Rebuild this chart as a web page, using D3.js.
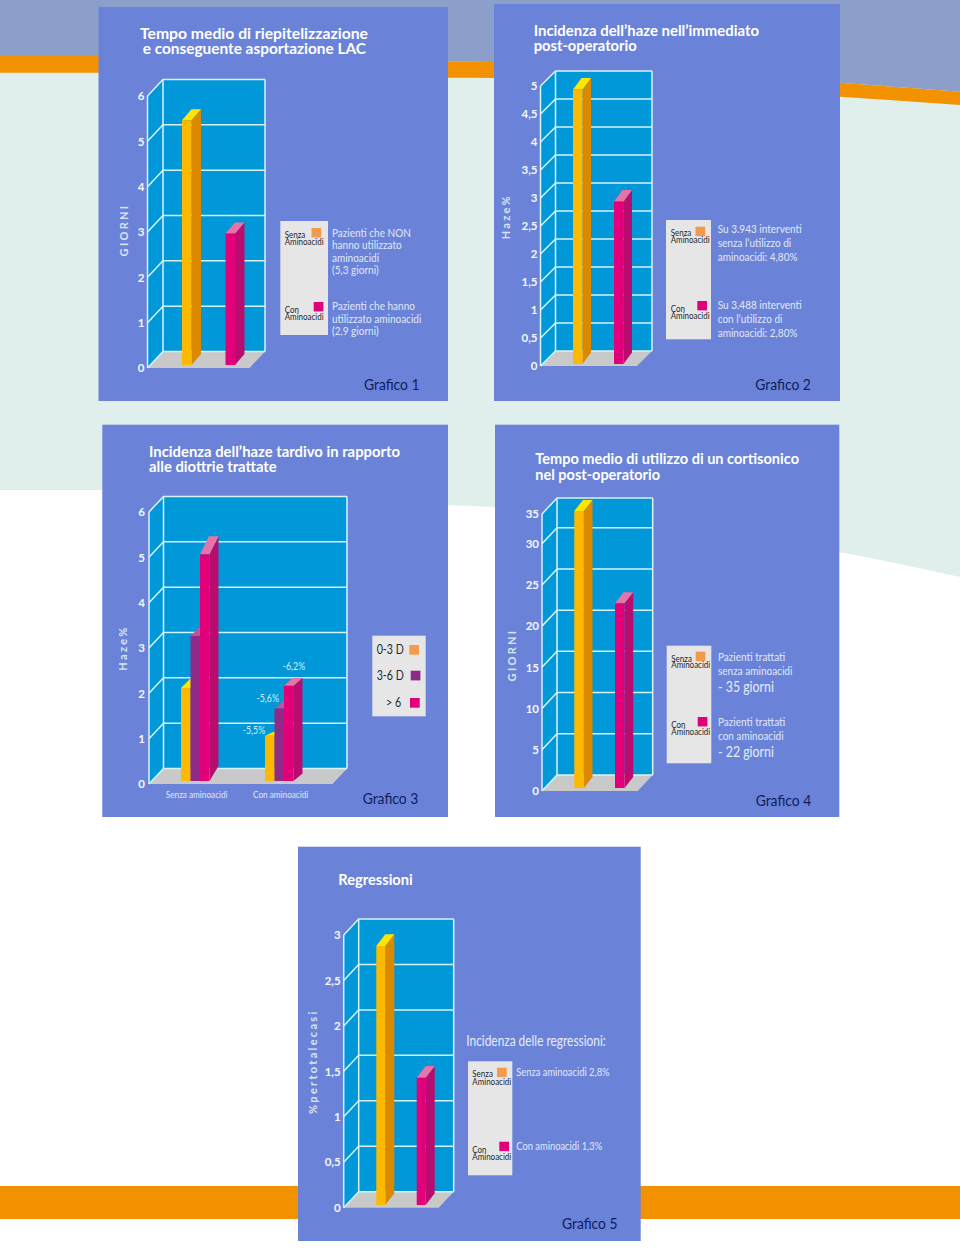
<!DOCTYPE html>
<html>
<head>
<meta charset="utf-8">
<script src="https://d3js.org/d3.v7.min.js"></script>
<style>
  html, body { margin: 0; padding: 0; background: #fff; }
  svg { display: block; }
  text { font-family: Lato, "Open Sans", sans-serif; }
  .title { font-weight: 700; font-size: 15.5px; fill: #fff; }
  .tick text { font-weight: 700; font-size: 11.5px; fill: #f4f8fc; }
  .axis-title { font-weight: 700; font-size: 11px; fill: #d8e6f4; }
  .note { font-size: 11px; fill: #e0e8f6; }
  .big-note { font-size: 14.5px; fill: #e6edf8; }
  .key { font-size: 9.5px; fill: #26262e; }
  .fig { font-size: 15.5px; fill: #101c5e; }
</style>
</head>
<body>
<div id="chart"></div>
<script>
// ---- values ----
const g1Categories = ["Senza Aminoacidi", "Con Aminoacidi"];
const g1Values = [5.4, 2.9];
const g1Ticks = [0, 1, 2, 3, 4, 5, 6];

const g2Categories = ["Senza Aminoacidi", "Con Aminoacidi"];
const g2Values = [4.9, 2.9];
const g2Ticks = [0, 0.5, 1, 1.5, 2, 2.5, 3, 3.5, 4, 4.5, 5];

const g3Groups = ["Senza aminoacidi", "Con aminoacidi"];
const g3Series = ["0-3 D", "3-6 D", "> 6"];
const g3Values = [[2.05, 3.2, 5.0], [1.0, 1.6, 2.1]];
const g3Labels = ["-5,5%", "-5,6%", "-6,2%"];
const g3Ticks = [0, 1, 2, 3, 4, 5, 6];

const g4Categories = ["Senza Aminoacidi", "Con Aminoacidi"];
const g4Values = [35, 22.4];
const g4Ticks = [0, 5, 10, 15, 20, 25, 30, 35];

const g5Categories = ["Senza Aminoacidi", "Con Aminoacidi"];
const g5Values = [2.85, 1.4];
const g5Ticks = [0, 0.5, 1, 1.5, 2, 2.5, 3];

// ---- colours ----
const WALL = "#0098d8";
const LINE = "#d6f4f6";
const FLOOR = "#c9c9c9";
const PANEL = "#6a83d8";
const YELLOW = { front: "#fdb900", side: "#db8a00", top: "#ffe600" };
const PURPLE = { front: "#8f2a87", side: "#8f2a87", top: "#b5589c" };
const PINK = { front: "#e2007a", side: "#b80c70", top: "#e873a8" };
const KEY_ORANGE = "#f39a4c";

const comma = d => String(d).replace(".", ",");

const svg = d3.select("#chart").append("svg").attr("width", 960).attr("height", 1249);

// ---- page background ----
svg.append("rect").attr("width", 960).attr("height", 1249).attr("fill", "#fff");
const bandLine = d3.line().curve(d3.curveMonotoneX);
const stripeTop = [[0, 56], [98, 56], [448, 61.7], [494, 62], [840, 82.7], [960, 91.7]];
const stripeBottom = [[960, 105], [840, 96.7], [494, 78], [448, 77.7], [98, 72.7], [0, 72.7]];
const paleBottom = [[0, 490], [102, 490], [448, 505], [495, 507], [839, 552], [960, 577]];
svg.append("path").attr("fill", "#e0efeb")
  .attr("d", bandLine(paleBottom) + "L960,0L0,0Z");
svg.append("path").attr("fill", "#8c9fcb")
  .attr("d", bandLine(stripeTop) + "L960,0L0,0Z");
svg.append("path").attr("fill", "#f39200")
  .attr("d", bandLine(stripeTop) + "L" + bandLine(stripeBottom).slice(1) + "Z");
svg.append("rect").attr("x", 0).attr("y", 1186).attr("width", 960).attr("height", 33).attr("fill", "#f39200");

function text(g, x, y, str, cls) {
  return g.append("text").attr("x", x).attr("y", y).attr("class", cls).text(str);
}

// the original face runs narrower than Lato, so texts get pulled in to a given width
function fit(sel, width) {
  sel.attr("textLength", width).attr("lengthAdjust", "spacingAndGlyphs");
}

// one 3D-looking bar, front face plus side and top faces
function drawBar(g, x, w, yTop, yBase, dx, dyTop, dyBase, c) {
  g.append("path").attr("fill", c.side)
    .attr("d", `M${x + w},${yBase}L${x + w + dx},${yBase - dyBase}L${x + w + dx},${yTop - dyTop}L${x + w},${yTop}Z`);
  g.append("path").attr("fill", c.top)
    .attr("d", `M${x},${yTop}L${x + dx},${yTop - dyTop}L${x + w + dx},${yTop - dyTop}L${x + w},${yTop}Z`);
  g.append("rect").attr("x", x).attr("y", yTop).attr("width", w).attr("height", yBase - yTop).attr("fill", c.front);
}

// panel, walls, gridlines and the value axis shared by all five charts
function drawFrame(p) {
  const g = svg.append("g");
  g.append("rect").attr("x", p.panel[0]).attr("y", p.panel[1])
    .attr("width", p.panel[2] - p.panel[0]).attr("height", p.panel[3] - p.panel[1]).attr("fill", PANEL);

  const y = d3.scaleLinear().domain(p.domain).range(p.range);
  const x0 = p.left, x1 = p.right, d = p.dx, e = p.dy, y0 = p.range[0];
  const yTop = p.range[p.range.length - 1];

  g.append("path").attr("fill", WALL)
    .attr("d", `M${x0},${y0}L${x0 + d},${y0 - e}L${x0 + d},${yTop - e}L${x0},${yTop}Z`);
  g.append("rect").attr("x", x0 + d).attr("y", yTop - e).attr("width", x1 - x0 - d).attr("height", y0 - yTop).attr("fill", WALL);
  g.append("path").attr("fill", FLOOR)
    .attr("d", `M${x0},${y0}L${x0 + d},${y0 - e}L${x1},${y0 - e}L${x1 - d},${y0}Z`);

  g.selectAll(".grid").data(p.ticks).enter().append("path")
    .attr("class", "grid").attr("fill", "none").attr("stroke", LINE).attr("stroke-width", 1.5)
    .attr("d", v => `M${x0},${y(v)}L${x0 + d},${y(v) - e}L${x1},${y(v) - e}`);
  g.append("path").attr("fill", "none").attr("stroke", LINE).attr("stroke-width", 1.5)
    .attr("d", `M${x0},${y0}L${x0},${yTop}M${x0 + d},${y0 - e}L${x0 + d},${yTop - e}M${x1},${y0 - e}L${x1},${yTop - e}`);

  const axis = g.append("g").attr("transform", `translate(${x0},0)`)
    .call(d3.axisLeft(y).tickValues(p.ticks).tickFormat(comma).tickSize(0).tickPadding(p.tickPad || 3));
  axis.select(".domain").remove();

  g.append("text").attr("class", "axis-title")
    .attr("transform", `translate(${p.axisTitle[0]},${p.axisTitle[1]}) rotate(-90)`)
    .attr("text-anchor", "middle").attr("letter-spacing", "2.3px").text(p.axisLabel);

  p.title.forEach((t, i) => {
    fit(text(g, p.titleX[i], p.titleY + i * 15.2, t, "title"), p.titleW[i]);
  });
  fit(text(g, p.figAt[0], p.figAt[1], p.fig, "fig"), 55.5);
  return { g, y };
}

// two single-series bars
function drawPair(frame, p, categories, values) {
  const x = d3.scalePoint().domain(categories).range(p.barX);
  categories.forEach((c, i) => {
    const yTop = frame.y(values[i]) - p.lift;
    const yBase = frame.y(0) - p.lift;
    drawBar(frame.g, x(c), p.barW, yTop, yBase, p.barDx, p.barDy, p.barDy, i === 0 ? YELLOW : PINK);
  });
}

// grey key box with the "Senza/Con Aminoacidi" swatches and notes beside it
function drawKey(g, k) {
  g.append("rect").attr("x", k.box[0]).attr("y", k.box[1])
    .attr("width", k.box[2] - k.box[0]).attr("height", k.box[3] - k.box[1]).attr("fill", "#e6e6e6");
  k.swatch.forEach((s, i) => {
    g.append("rect").attr("x", s[0]).attr("y", s[1]).attr("width", 9.7).attr("height", 9.4)
      .attr("fill", i === 0 ? KEY_ORANGE : PINK.front);
  });
  k.lines.forEach(l => {
    const t = text(g, l[0], l[1], l[2], "key");
    fit(t, t.node().getComputedTextLength() * 0.84);
  });
  k.notes.forEach(n => {
    const t = text(g, n[0], n[1], n[2], n[3] || "note");
    fit(t, t.node().getComputedTextLength() * (n[4] || 0.91));
  });
}

// ---- Grafico 1 ----
const p1 = {
  panel: [98.5, 7, 448, 401], domain: [0, 6], range: [368, 96], left: 147.5, right: 265, dx: 15.5, dy: 16.5,
  ticks: g1Ticks, axisLabel: "GIORNI", axisTitle: [128, 230],
  title: ["Tempo medio di riepitelizzazione", "e conseguente asportazione LAC"],
  titleX: [140, 142.7], titleY: 39, titleW: [228, 223.3],
  fig: "Grafico 1", figAt: [364, 390],
  barX: [182, 225.5], barW: 9.5, barDx: 9.5, barDy: 11, lift: 3
};
const f1 = drawFrame(p1);
drawPair(f1, p1, g1Categories, g1Values);
drawKey(f1.g, {
  box: [280.3, 221, 328, 335],
  swatch: [[311.5, 228], [313.7, 302]],
  lines: [[284.7, 237.7, "Senza"], [284.7, 244.7, "Aminoacidi"], [284.7, 313, "Con"], [284.7, 319.7, "Aminoacidi"]],
  notes: [[332, 236.7, "Pazienti che NON"], [332, 249.3, "hanno utilizzato"], [332, 262, "aminoacidi"], [332, 274.3, "(5,3 giorni)"],
    [332, 310.3, "Pazienti che hanno"], [332, 323, "utilizzato aminoacidi"], [332, 335.3, "(2,9 giorni)"]]
});

// ---- Grafico 2 ----
const p2 = {
  panel: [494, 4, 840, 401], domain: [0, 5], range: [366, 86], left: 540.5, right: 652, dx: 15, dy: 15,
  ticks: g2Ticks, axisLabel: "Haze%", axisTitle: [510, 216.7],
  title: ["Incidenza dell’haze nell’immediato", "post-operatorio"],
  titleX: [533.7, 533.7], titleY: 35.7, titleW: [225.3, 103],
  fig: "Grafico 2", figAt: [755.3, 390],
  barX: [573, 614], barW: 9.5, barDx: 8.5, barDy: 11.5, lift: 2
};
const f2 = drawFrame(p2);
drawPair(f2, p2, g2Categories, g2Values);
drawKey(f2.g, {
  box: [666, 220, 711, 339.3],
  swatch: [[695.5, 226.7], [697.3, 301]],
  lines: [[670.7, 236, "Senza"], [670.7, 243.3, "Aminoacidi"], [670.7, 312, "Con"], [670.7, 319, "Aminoacidi"]],
  notes: [[717.7, 233.3, "Su 3.943 interventi"], [717.7, 247.3, "senza l’utilizzo di"], [717.7, 261.3, "aminoacidi: 4,80%"],
    [717.7, 309, "Su 3.488 interventi"], [717.7, 323, "con l’utilizzo di"], [717.7, 337, "aminoacidi: 2,80%"]]
});

// ---- Grafico 3 ----
const p3 = {
  panel: [102.3, 424.7, 448, 817], domain: [0, 6], range: [784, 512], left: 149, right: 347, dx: 14.5, dy: 15.5,
  ticks: g3Ticks, axisLabel: "Haze%", axisTitle: [127, 648],
  title: ["Incidenza dell’haze tardivo in rapporto", "alle diottrie trattate"],
  titleX: [149, 149], titleY: 456.7, titleW: [251, 127.7],
  fig: "Grafico 3", figAt: [362.7, 804], tickPad: 4
};
const f3 = drawFrame(p3);
const g3X = d3.scalePoint().domain(g3Groups).range([181, 265]);
const g3Inner = d3.scaleBand().domain(g3Series).range([0, 28.5]);
const g3Colours = [YELLOW, PURPLE, PINK];
const g3TopDepth = [[9, 9, 18], [4, 8, 8]];
const g3BaseDepth = [15, 7.5];
g3Groups.forEach((group, i) => {
  g3Series.forEach((s, j) => {
    drawBar(f3.g, g3X(group) + g3Inner(s), g3Inner.bandwidth(), f3.y(g3Values[i][j]) - 3, f3.y(0) - 3,
      9, g3TopDepth[i][j], g3BaseDepth[i], g3Colours[j]);
  });
  const t = text(f3.g, g3X(group) + 15.7, 798, group, "note").attr("text-anchor", "middle").style("font-size", "10px");
  fit(t, t.node().getComputedTextLength() * 0.82);
});
const g3LabelAt = [[254, 733.5], [267.7, 702], [294, 669.5]];
g3Labels.forEach((l, i) => {
  const t = text(f3.g, g3LabelAt[i][0], g3LabelAt[i][1], l, "note").attr("text-anchor", "middle")
    .style("fill", "#d4eef4");
  fit(t, t.node().getComputedTextLength() * 0.8);
});
f3.g.append("rect").attr("x", 372.3).attr("y", 635.7).attr("width", 53.4).attr("height", 80.6).attr("fill", "#e6e6e6");
const g3KeyAt = [[376.7, 654, 409.3, 645, KEY_ORANGE], [376.7, 680, 410.7, 670.7, PURPLE.front], [386, 707.3, 410, 698, PINK.front]];
g3Series.forEach((s, i) => {
  const k = g3KeyAt[i];
  const t = text(f3.g, k[0], k[1], s, "key").style("font-size", "13px");
  fit(t, t.node().getComputedTextLength() * 0.82);
  f3.g.append("rect").attr("x", k[2]).attr("y", k[3]).attr("width", 9.7).attr("height", 9.7).attr("fill", k[4]);
});

// ---- Grafico 4 ----
// the top step of this chart is drawn shorter than the others, hence three stops
const p4 = {
  panel: [495, 424.7, 839.3, 817], domain: [0, 30, 35], range: [791, 543.7, 514], left: 542, right: 652.7, dx: 15, dy: 16,
  ticks: g4Ticks, axisLabel: "GIORNI", axisTitle: [516, 655],
  title: ["Tempo medio di utilizzo di un cortisonico", "nel post-operatorio"],
  titleX: [535.3, 535.3], titleY: 464.3, titleW: [263.7, 124.7],
  fig: "Grafico 4", figAt: [755.7, 805.7],
  barX: [574.3, 615], barW: 9.5, barDx: 8.7, barDy: 11, lift: 3
};
const f4 = drawFrame(p4);
drawPair(f4, p4, g4Categories, g4Values);
drawKey(f4.g, {
  box: [666.7, 645.7, 711.3, 763.3],
  swatch: [[695.7, 651.7], [697.7, 717]],
  lines: [[671.3, 661.7, "Senza"], [671.3, 668.3, "Aminoacidi"], [671.3, 728.3, "Con"], [671.3, 735.3, "Aminoacidi"]],
  notes: [[718, 661.3, "Pazienti trattati"], [718, 674.7, "senza aminoacidi"], [718, 692.3, "- 35 giorni", "big-note", 0.85],
    [718, 726.3, "Pazienti trattati"], [718, 740, "con aminoacidi"], [718, 757.3, "- 22 giorni", "big-note", 0.85]]
});

// ---- Grafico 5 ----
const p5 = {
  panel: [298, 846.7, 640.7, 1241], domain: [0, 3], range: [1207.7, 935], left: 343.7, right: 453.7, dx: 15, dy: 16,
  ticks: g5Ticks, axisLabel: "%pertotalecasi", axisTitle: [317, 1061.7],
  title: ["Regressioni"], titleX: [338.3], titleY: 885, titleW: [74.4],
  fig: "Grafico 5", figAt: [562, 1229.3],
  barX: [376.3, 416.7], barW: 9, barDx: 9, barDy: 11.7, lift: 2.7
};
const f5 = drawFrame(p5);
drawPair(f5, p5, g5Categories, g5Values);
drawKey(f5.g, {
  box: [468, 1061.3, 512.3, 1175.3],
  swatch: [[497, 1067.7], [499.3, 1141.7]],
  lines: [[472.3, 1077.3, "Senza"], [472.3, 1085, "Aminoacidi"], [472.3, 1152.7, "Con"], [472.3, 1160, "Aminoacidi"]],
  notes: [[466.3, 1045.7, "Incidenza delle regressioni:", "big-note", 0.82],
    [516.3, 1075.7, "Senza aminoacidi 2,8%", "note", 0.85], [516.3, 1150, "Con aminoacidi 1,3%", "note", 0.85]]
});
</script>
</body>
</html>
